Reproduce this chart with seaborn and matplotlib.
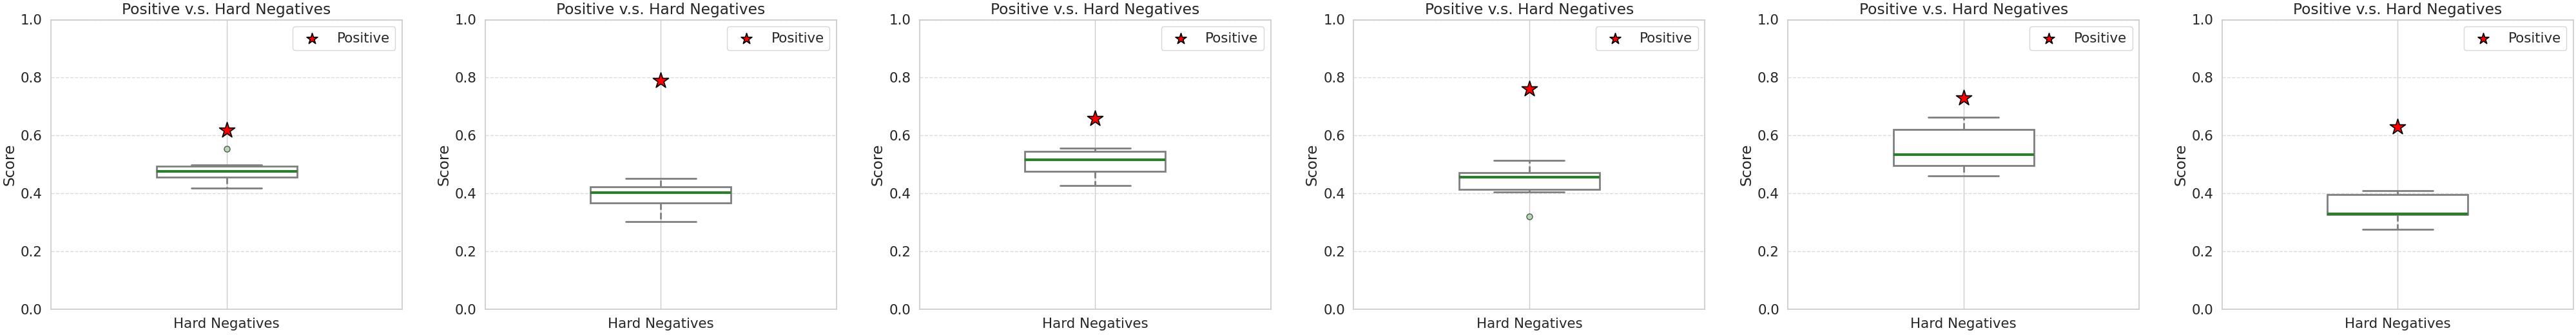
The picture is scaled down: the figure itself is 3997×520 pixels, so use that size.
## Positive score vs hard negative score distribution, six runs side by side

import pandas as pd
import matplotlib
matplotlib.use("Agg")
import matplotlib.pyplot as plt
import seaborn as sns

#----------------------------------------------------
# DATA
#----------------------------------------------------

categories = ["Hard Negatives"]

# hard negative scores for each panel
neg_scores_1 = [0.419, 0.440, 0.456, 0.468, 0.477, 0.485, 0.494, 0.499, 0.553]
neg_scores_2 = [0.303, 0.340, 0.367, 0.390, 0.403, 0.412, 0.423, 0.435, 0.451]
neg_scores_3 = [0.428, 0.455, 0.475, 0.500, 0.516, 0.530, 0.544, 0.550, 0.556]
neg_scores_4 = [0.321, 0.404, 0.414, 0.440, 0.455, 0.465, 0.472, 0.490, 0.515]
neg_scores_5 = [0.461, 0.480, 0.497, 0.515, 0.534, 0.580, 0.621, 0.640, 0.662]
neg_scores_6 = [0.276, 0.300, 0.326, 0.328, 0.330, 0.360, 0.396, 0.402, 0.409]

# positive score for each panel
pos_scores = [0.618, 0.790, 0.659, 0.760, 0.729, 0.629]

all_negs = [neg_scores_1, neg_scores_2, neg_scores_3, neg_scores_4, neg_scores_5, neg_scores_6]

#----------------------------------------------------
# PLOT
#----------------------------------------------------

sns.set_theme(style="whitegrid", font_scale=1.4)
plt.rcParams['font.family'] = ['DejaVu Sans']

my_fig, axes = plt.subplots(1, 6, figsize=(39.97, 5.2), dpi=100)
my_fig.subplots_adjust(left=79/3997, right=3993/3997, bottom=40/520, top=1-30.5/520, wspace=0.236)

for ax, negs, pos in zip(axes, all_negs, pos_scores):
    df = pd.DataFrame({"type": categories[0], "Score": negs})
    sns.boxplot(data=df, x="type", y="Score", ax=ax, width=0.4,
                color="white", linecolor="#7f7f7f", linewidth=2,
                medianprops=dict(color="#2e7d2e", linewidth=3),
                whiskerprops=dict(linestyle="--"),
                flierprops=dict(marker="o", markerfacecolor="#b3dbb3",
                                markeredgecolor="#555555", markersize=6.5))
    # positive sample as a star on top of the box
    ax.scatter([categories.index("Hard Negatives")], [pos], marker="*", s=330,
               color="red", edgecolor="black", linewidth=1.2, label="Positive", zorder=5)
    ax.set_xlim(-0.5, len(categories) - 0.5)
    ax.set_ylim(0, 1.0)
    ax.set_xlabel("")
    ax.set_ylabel("Score")
    ax.set_title("Positive v.s. Hard Negatives")
    ax.xaxis.grid(True)
    ax.yaxis.grid(True, linestyle="--", alpha=0.7)
    ax.set_axisbelow(True)
    ax.legend(loc="upper right", markerscale=0.7)

my_fig.savefig("out.png", dpi=100)
